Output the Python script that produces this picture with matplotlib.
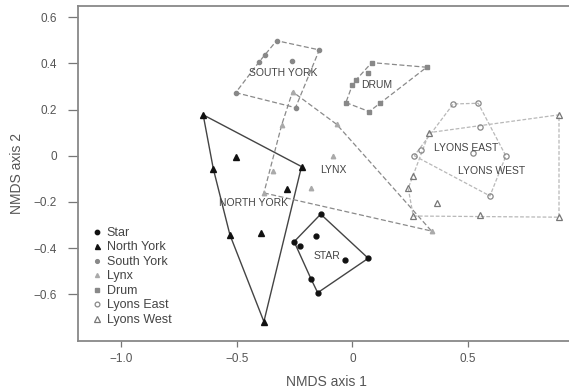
import numpy as np
import matplotlib
matplotlib.use("Agg")
import matplotlib.pyplot as plt

plt.rcParams["font.family"] = ["Liberation Sans", "DejaVu Sans"]

# -----------------------------
# NMDS site scores per location
# -----------------------------
star_x = [-0.137, 0.069, -0.150, -0.179, -0.252, -0.227, -0.158, -0.032]
star_y = [-0.253, -0.444, -0.593, -0.533, -0.372, -0.390, -0.346, -0.451]

north_york_x = [-0.646, -0.220, -0.505, -0.602, -0.282, -0.530, -0.396, -0.383]
north_york_y = [0.177, -0.047, -0.004, -0.057, -0.144, -0.343, -0.335, -0.718]

south_york_x = [-0.328, -0.143, -0.379, -0.403, -0.263, -0.505, -0.246]
south_york_y = [0.498, 0.458, 0.436, 0.407, 0.410, 0.273, 0.208]

lynx_x = [-0.259, -0.068, 0.343, -0.383, -0.306, -0.345, -0.083, -0.181]
lynx_y = [0.277, 0.136, -0.326, -0.161, 0.133, -0.066, -0.001, -0.141]

drum_x = [0.084, 0.322, 0.069, 0.016, 0.000, -0.028, 0.073, 0.120]
drum_y = [0.403, 0.383, 0.357, 0.328, 0.306, 0.230, 0.191, 0.230]

lyons_east_x = [0.437, 0.545, 0.553, 0.297, 0.268, 0.521, 0.665, 0.596]
lyons_east_y = [0.224, 0.227, 0.126, 0.025, 0.000, 0.013, -0.001, -0.174]

lyons_west_x = [0.333, 0.895, 0.895, 0.264, 0.553, 0.365, 0.264, 0.242]
lyons_west_y = [0.100, 0.177, -0.266, -0.261, -0.256, -0.203, -0.087, -0.141]

group_names = ["Star", "North York", "South York", "Lynx", "Drum",
               "Lyons East", "Lyons West"]

# label text and position for each hull
hull_labels = ["STAR", "NORTH YORK", "SOUTH YORK", "LYNX", "DRUM",
               "LYONS EAST", "LYONS WEST"]
label_x = [-0.110, -0.426, -0.300, -0.084, 0.105, 0.492, 0.603]
label_y = [-0.433, -0.204, 0.358, -0.061, 0.306, 0.034, -0.066]

x_ticks = [-1.0, -0.5, 0.0, 0.5]
x_tick_labels = ["\u22121.0", "\u22120.5", "0", "0.5"]
y_ticks = [0.6, 0.4, 0.2, 0.0, -0.2, -0.4, -0.6]
y_tick_labels = ["0.6", "0.4", "0.2", "0", "\u22120.2", "\u22120.4", "\u22120.6"]


def convex_hull(xs, ys):
    pts = sorted(set(zip(xs, ys)))

    def cross(o, a, b):
        return (a[0] - o[0]) * (b[1] - o[1]) - (a[1] - o[1]) * (b[0] - o[0])

    lower, upper = [], []
    for p in pts:
        while len(lower) >= 2 and cross(lower[-2], lower[-1], p) <= 0:
            lower.pop()
        lower.append(p)
    for p in reversed(pts):
        while len(upper) >= 2 and cross(upper[-2], upper[-1], p) <= 0:
            upper.pop()
        upper.append(p)
    hull = lower[:-1] + upper[:-1]
    hull.append(hull[0])
    return np.array(hull)


groups = [
    (star_x, star_y, dict(marker="o", ms=3.5, mfc="#111111", mec="#111111"),
     dict(color="#444444", ls="-", lw=1.0)),
    (north_york_x, north_york_y, dict(marker="^", ms=4.0, mfc="#111111", mec="#111111"),
     dict(color="#444444", ls="-", lw=1.0)),
    (south_york_x, south_york_y, dict(marker="o", ms=3.0, mfc="#888888", mec="#888888"),
     dict(color="#8a8a8a", ls=(0, (4, 2)), lw=0.9)),
    (lynx_x, lynx_y, dict(marker="^", ms=3.2, mfc="#aaaaaa", mec="#aaaaaa"),
     dict(color="#8a8a8a", ls=(0, (4, 2)), lw=0.9)),
    (drum_x, drum_y, dict(marker="s", ms=3.0, mfc="#888888", mec="#888888"),
     dict(color="#8a8a8a", ls=(0, (4, 2)), lw=0.9)),
    (lyons_east_x, lyons_east_y, dict(marker="o", ms=3.8, mfc="none", mec="#888888", mew=0.9),
     dict(color="#b8b8b8", ls=(0, (3, 1.5)), lw=0.9)),
    (lyons_west_x, lyons_west_y, dict(marker="^", ms=5.0, mfc="none", mec="#777777", mew=0.9),
     dict(color="#b8b8b8", ls=(0, (3, 1.5)), lw=0.9)),
]

fig = plt.figure(figsize=(5.69, 3.90), dpi=100)
ax = fig.add_axes([0.1371, 0.1256, 0.8717, 0.859])

for (gx, gy, mstyle, lstyle), name in zip(groups, group_names):
    hull = convex_hull(gx, gy)
    ax.plot(hull[:, 0], hull[:, 1], zorder=1, **lstyle)
    ax.plot(gx, gy, ls="none", label=name, zorder=2, **mstyle)

for txt, tx, ty in zip(hull_labels, label_x, label_y):
    ax.text(tx, ty, txt, fontsize=7.5, color="#444444", ha="center", va="center",
            zorder=3)

ax.set_xlim(-1.188, 0.960)
ax.set_ylim(-0.802, 0.648)
ax.set_xticks(x_ticks)
ax.set_xticklabels(x_tick_labels)
ax.set_yticks(y_ticks)
ax.set_yticklabels(y_tick_labels)
ax.tick_params(direction="out", width=0.9, colors="#777777",
               labelcolor="#555555", labelsize=8.5)
ax.tick_params(axis="x", length=4.5, pad=4)
ax.tick_params(axis="y", length=7, pad=8)

for side in ax.spines.values():
    side.set_color("#888888")
    side.set_linewidth(1.3)

ax.set_xlabel("NMDS axis 1", fontsize=10, color="#555555", labelpad=7)
ax.set_ylabel("NMDS axis 2", fontsize=10, color="#555555", labelpad=7)

leg = ax.legend(loc="lower left", bbox_to_anchor=(0.028, 0.045), frameon=False,
                fontsize=9, handlelength=0.8, handletextpad=0.4,
                labelspacing=0.2, borderpad=0, borderaxespad=0,
                markerscale=0.9)
for t in leg.get_texts():
    t.set_color("#444444")

fig.savefig("out.png", dpi=100)
